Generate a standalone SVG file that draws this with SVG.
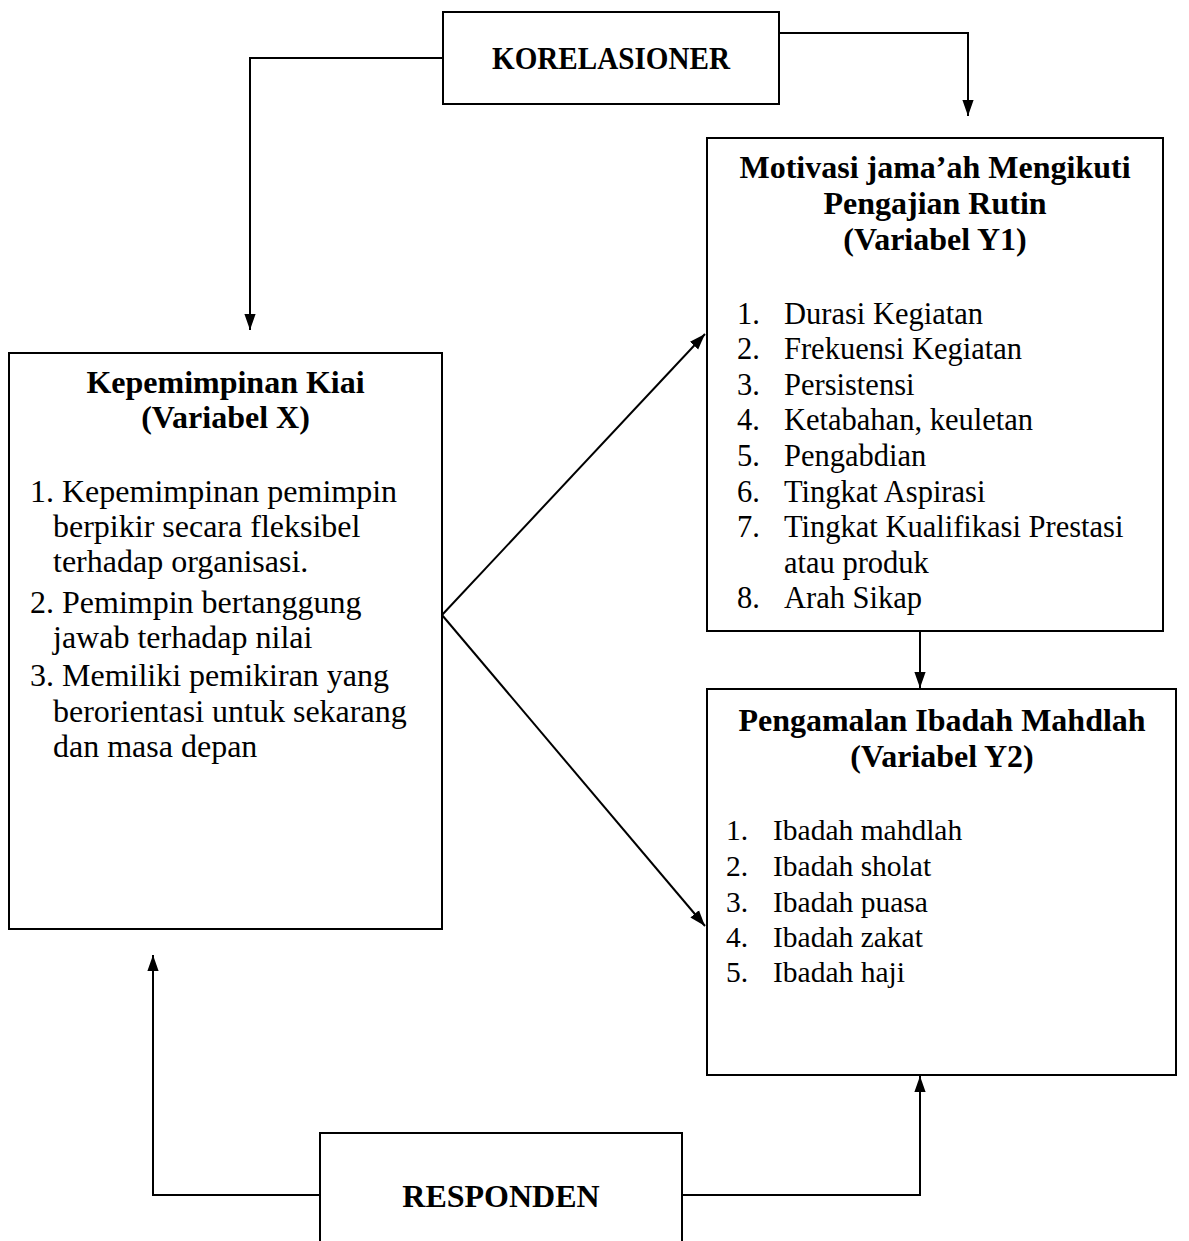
<svg xmlns="http://www.w3.org/2000/svg" width="1189" height="1241" viewBox="0 0 1189 1241">
<defs>
<style>
.box{fill:#fff;stroke:#000;stroke-width:2}
.ln{fill:none;stroke:#000;stroke-width:2}
.t{font-family:"Liberation Serif","Times New Roman",serif;fill:#000}
.b{font-weight:bold;font-size:32px;text-anchor:middle}
.r{font-size:32px}
.r30{font-size:30.5px}
.r29{font-size:29.5px}
</style>
<marker id="ah" viewBox="0 0 10 10" refX="10" refY="5" markerWidth="16" markerHeight="16" markerUnits="userSpaceOnUse" orient="auto">
<path d="M0,1.5 L10,5 L0,8.5 Z" fill="#000"/>
</marker>
</defs>
<rect width="1189" height="1241" fill="#fff"/>

<g id="connectors">
<polyline class="ln" points="443,58 250,58 250,330" marker-end="url(#ah)"/>
<polyline class="ln" points="779,33 968,33 968,116" marker-end="url(#ah)"/>
<line class="ln" x1="920" y1="600" x2="920" y2="688" marker-end="url(#ah)"/>
<line class="ln" x1="442" y1="615" x2="705" y2="334" marker-end="url(#ah)"/>
<line class="ln" x1="442" y1="615" x2="705" y2="926" marker-end="url(#ah)"/>
<polyline class="ln" points="320,1195 153,1195 153,955" marker-end="url(#ah)"/>
<polyline class="ln" points="682,1195 920,1195 920,1076" marker-end="url(#ah)"/>
</g>

<g id="korelasioner">
<rect class="box" x="443" y="12" width="336" height="92"/>
<text class="t b" x="611" y="69" textLength="238" lengthAdjust="spacingAndGlyphs">KORELASIONER</text>
</g>

<g id="variabel-x">
<rect class="box" x="9" y="353" width="433" height="576"/>
<text class="t b" x="225.5" y="393">Kepemimpinan Kiai</text>
<text class="t b" x="225.5" y="428">(Variabel X)</text>
<text class="t r" x="30" y="502">1. Kepemimpinan pemimpin</text>
<text class="t r" x="53" y="537">berpikir secara fleksibel</text>
<text class="t r" x="53" y="572">terhadap organisasi.</text>
<text class="t r" x="30" y="613">2. Pemimpin bertanggung</text>
<text class="t r" x="53" y="648">jawab terhadap nilai</text>
<text class="t r" x="30" y="686">3. Memiliki pemikiran yang</text>
<text class="t r" x="53" y="722">berorientasi untuk sekarang</text>
<text class="t r" x="53" y="757">dan masa depan</text>
</g>

<g id="variabel-y1">
<rect class="box" x="707" y="138" width="456" height="493"/>
<text class="t b" x="935" y="178">Motivasi jama’ah Mengikuti</text>
<text class="t b" x="935" y="214">Pengajian Rutin</text>
<text class="t b" x="935" y="250">(Variabel Y1)</text>
<text class="t r30" x="737" y="324">1.</text><text class="t r30" x="784" y="324">Durasi Kegiatan</text>
<text class="t r30" x="737" y="359">2.</text><text class="t r30" x="784" y="359">Frekuensi Kegiatan</text>
<text class="t r30" x="737" y="395">3.</text><text class="t r30" x="784" y="395">Persistensi</text>
<text class="t r30" x="737" y="430">4.</text><text class="t r30" x="784" y="430">Ketabahan, keuletan</text>
<text class="t r30" x="737" y="466">5.</text><text class="t r30" x="784" y="466">Pengabdian</text>
<text class="t r30" x="737" y="502">6.</text><text class="t r30" x="784" y="502">Tingkat Aspirasi</text>
<text class="t r30" x="737" y="537">7.</text><text class="t r30" x="784" y="537">Tingkat Kualifikasi Prestasi</text>
<text class="t r30" x="784" y="573">atau produk</text>
<text class="t r30" x="737" y="608">8.</text><text class="t r30" x="784" y="608">Arah Sikap</text>
</g>

<g id="variabel-y2">
<rect class="box" x="707" y="689" width="469" height="386"/>
<text class="t b" x="942" y="731">Pengamalan Ibadah Mahdlah</text>
<text class="t b" x="942" y="767">(Variabel Y2)</text>
<text class="t r29" x="726" y="840">1.</text><text class="t r29" x="773" y="840">Ibadah mahdlah</text>
<text class="t r29" x="726" y="876">2.</text><text class="t r29" x="773" y="876">Ibadah sholat</text>
<text class="t r29" x="726" y="912">3.</text><text class="t r29" x="773" y="912">Ibadah puasa</text>
<text class="t r29" x="726" y="947">4.</text><text class="t r29" x="773" y="947">Ibadah zakat</text>
<text class="t r29" x="726" y="982">5.</text><text class="t r29" x="773" y="982">Ibadah haji</text>
</g>

<g id="responden">
<rect class="box" x="320" y="1133" width="362" height="130"/>
<text class="t b" x="501" y="1207">RESPONDEN</text>
</g>
</svg>
